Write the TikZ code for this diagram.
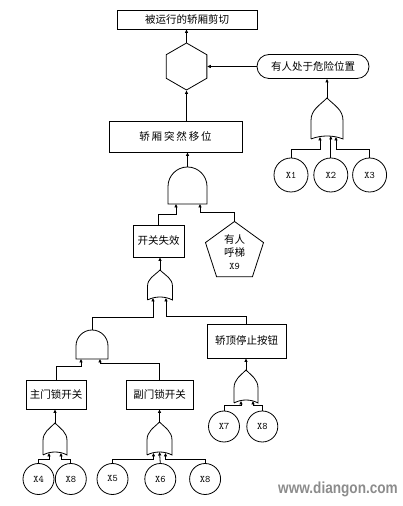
\documentclass[tikz,border=0pt]{standalone}
\usepackage{fontspec}
\newfontfamily\zhfont{Noto Sans CJK SC}
\newfontfamily\wmfont{Liberation Sans}
\usetikzlibrary{arrows.meta, positioning, calc, shapes.geometric}

\tikzset{
  gw/.store in=\gatew,
  gh/.store in=\gateh,
  gw=24, gh=32,
  gatebox/.style={inner sep=0pt, outer sep=0pt,
    minimum width=\gatew pt, minimum height=\gateh pt},
  andgate/.pic={
    \node[gatebox] (-g) {};
    \draw (-g.south west) -- (-g.south east)
      -- ++(0,\gateh-0.5*\gatew)
      arc[start angle=0, end angle=180, radius=0.5*\gatew] -- cycle;
  },
  orgate/.pic={
    \node[gatebox] (-g) {};
    \draw (-g.south west) -- ++(0,0.45*\gateh)
      to[out=90, in=-135] (-g.north)
      to[out=-45, in=90] ($(-g.south east)+(0,0.45*\gateh)$)
      -- (-g.south east)
      .. controls +(-0.3*\gatew,4) and +(0.3*\gatew,4) .. (-g.south west);
  }
}

\begin{document}
\begin{tikzpicture}[
  x=1pt, y=1pt,
  line width=0.8pt,
  event/.style = {
    draw,
    inner sep=0pt,
    font=\zhfont\fontsize{10.5}{13}\selectfont
  },
  basic/.style = {
    circle,
    draw,
    inner sep=0pt,
    minimum size=31pt,
    font=\ttfamily\fontsize{10}{11}\selectfont
  },
  arrow/.style = {-{Triangle[length=3.5pt, width=3pt]}},
  node distance=4pt
]
\useasboundingbox (0,0) rectangle (402,506);

% ---- top of the tree ----
\node[event, minimum width=140pt, minimum height=19pt] (top) at (187,486.5) {被运行的轿厢剪切};
\node[draw, regular polygon, regular polygon sides=6, shape border rotate=30,
  minimum size=47pt, inner sep=0pt] (hex) at (186.5,439.5) {};
\node[event, rounded corners=12pt, minimum width=112pt, minimum height=24pt] (danger) at (313,439.5) {有人处于危险位置};

\pic[gw=32, gh=41] (orR) at (327,387.5) {orgate};
\node[basic, minimum size=34pt] (x1) at (291,331) {X1};
\node[basic, minimum size=34pt, right=5pt of x1] (x2) {X2};
\node[basic, minimum size=34pt, right=4pt of x2] (x3) {X3};

% ---- car movement branch ----
\node[event, minimum width=133pt, minimum height=31pt] (move) at (175.5,369.5)
  {\addfontfeature{LetterSpace=18}轿厢突然移位};
\pic[gw=39, gh=37] (and1) at (187.5,320.5) {andgate};
\node[event, minimum width=51pt, minimum height=32pt] (sw) at (158.5,265) {开关失效};
\node[draw, regular polygon, regular polygon sides=5, minimum size=60pt, inner sep=0pt,
  align=center, font=\zhfont\fontsize{10.5}{13}\selectfont] (call) at (234.5,254)
  {有人\\呼梯\\{\ttfamily\fontsize{10}{11}\selectfont X9}};

\pic[gw=25, gh=30] (orA) at (160,221) {orgate};
\pic[gw=32, gh=29] (and2) at (92,161.5) {andgate};
\node[event, minimum width=79pt, minimum height=34pt] (stop) at (246.5,165) {轿顶停止按钮};

% ---- door lock switches ----
\node[event, minimum width=60pt, minimum height=29pt] (mainsw) at (56,111.5) {主门锁开关};
\node[event, minimum width=67pt, minimum height=29pt] (auxsw) at (159.5,111.5) {副门锁开关};
\pic[gh=32] (orB) at (55,67) {orgate};
\pic[gw=25, gh=33] (orC) at (159.5,67.5) {orgate};
\pic[gh=33] (orD) at (246,119.5) {orgate};

\node[basic] (x4) at (38.5,27) {X4};
\node[basic, right=0.5pt of x4] (x8a) {X8};
\node[basic] (x5) at (112.5,27) {X5};
\node[basic, right=16pt of x5] (x6) {X6};
\node[basic, right=13pt of x6] (x8b) {X8};
\node[basic] (x7) at (224,79.5) {X7};
\node[basic, right=6.5pt of x7] (x8c) {X8};

% ---- connectors ----
\draw[arrow] (hex.north) -- (top.south -| hex.north);
\draw[arrow] (danger.west) -- (hex.east);
\draw[arrow] (orR-g.north) -- (danger.south -| orR-g.north);
\draw[arrow] (x1.north) -- ++(0,8) -| ($(orR-g.south)+(-7,2)$);
\draw[arrow] (x2.north) -- ($(x2.north |- orR-g.south)+(0,3)$);
\draw[arrow] (x3.north) -- ++(0,8) -| ($(orR-g.south)+(9,2)$);

\draw[arrow] (move.north -| hex.south) -- (hex.south);
\draw[arrow] (and1-g.north) -- (and1-g.north |- move.south);
\draw[arrow] (sw.north) -- ++(0,10) -| ($(and1-g.south)+(-11.5,0)$);
\draw[arrow] (call.corner 1) -- ++(0,9) -| ($(and1-g.south)+(12.5,0)$);

\draw[arrow] (orA-g.north) -- (orA-g.north |- sw.south);
\draw[arrow] (and2-g.north) -- ++(0,13) -| ($(orA-g.south)+(-7,2)$);
\draw[arrow] (stop.north) -- ++(0,7) -| ($(orA-g.south)+(6,2)$);

\draw[arrow] (mainsw.north) -- ++(0,13) -| ($(and2-g.south)+(-11,0)$);
\draw[arrow] (auxsw.north) -- ++(0,16) -| ($(and2-g.south)+(8,0)$);

\draw[arrow] (orB-g.north) -- (orB-g.north |- mainsw.south);
\draw[arrow] (orC-g.north) -- (orC-g.north |- auxsw.south);
\draw[arrow] (orD-g.north) -- (orD-g.north |- stop.south);

\draw[arrow] (x4.north) -- ++(0,3.5) -| ($(orB-g.south)+(-6,2)$);
\draw[arrow] (x8a.north) -- ++(0,3.5) -| ($(orB-g.south)+(6,2)$);
\draw[arrow] (x5.north) -- ++(0,3.5) -| ($(orC-g.south)+(-6,2)$);
\draw[arrow] (x6.north) -- ($(orC-g.south)+(0,3)$);
\draw[arrow] (x8b.north) -- ++(0,3.5) -| ($(orC-g.south)+(6,2)$);
\draw[arrow] (x7.north) -- ++(0,5) -| ($(orD-g.south)+(-5,2)$);
\draw[arrow] (x8c.north) -- ++(0,5) -| ($(orD-g.south)+(7,2)$);

% watermark
\node[font=\wmfont\bfseries\fontsize{16}{16}\selectfont, text=black!45] (wm) at (338,17)
  {\scalebox{0.85}[1]{www.diangon.com}};
\end{tikzpicture}
\end{document}
